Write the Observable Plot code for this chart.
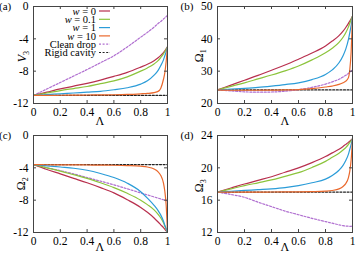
<!DOCTYPE html>
<html><head><meta charset="utf-8">
<script src="https://cdn.jsdelivr.net/npm/d3@7"></script>
<script src="https://cdn.jsdelivr.net/npm/@observablehq/plot@0.6"></script>
<style>
body{margin:0;background:#fff;}
#wrap{position:relative;width:356px;height:254px;font-family:"Liberation Serif","DejaVu Serif",serif;color:#000;}
.p{position:absolute;}
.lab{position:absolute;font-size:12px;white-space:nowrap;line-height:1;}
</style></head><body>
<div id="wrap"></div>
<script>
// Λ grid shared by all series
const lam = [0, 0.1, 0.2, 0.3, 0.4, 0.5, 0.6, 0.7, 0.8, 0.85, 0.9, 0.93, 0.95, 0.97, 0.98, 0.99, 1];
const seriesNames = ["w = 0", "w = 0.1", "w = 1", "w = 10", "Clean drop", "Rigid cavity"];
const xTicks = [0, 0.2, 0.4, 0.6, 0.8, 1];

// (a) V3
const a_w0   = [-11, -10.6, -10.2, -9.85, -9.5, -9.1, -8.65, -8.15, -7.5, -7.15, -6.7, -6.35, -6.05, -5.7, -5.5, -5.25, -5.0];
const a_w01  = [-11, -10.7, -10.4, -10.15, -9.9, -9.55, -9.2, -8.7, -8.0, -7.6, -7.1, -6.7, -6.3, -5.85, -5.6, -5.3, -5.0];
const a_w1   = [-11, -10.9, -10.8, -10.7, -10.6, -10.5, -10.3, -10.05, -9.6, -9.2, -8.5, -7.9, -7.3, -6.6, -6.1, -5.6, -5.0];
const a_w10  = [-11, -11, -10.98, -10.97, -10.95, -10.94, -10.92, -10.88, -10.8, -10.75, -10.65, -10.5, -10.1, -9.0, -8.2, -6.8, -5.0];
const a_clean= [-11, -10.2, -9.4, -8.6, -7.8, -6.95, -6.1, -5.0, -3.8, -3.2, -2.55, -2.1, -1.85, -1.55, -1.4, -1.25, -1.1];
const a_rigid= [-11, -11, -11, -11, -11, -11, -11, -11, -11, -11, -11, -11, -11, -11, -11, -11, -11];
const a_yTicks = [0, -4, -8, -12];

// (b) Ω1
const b_w0   = [24.2, 25.7, 27.2, 28.7, 30.3, 31.9, 33.7, 35.6, 37.8, 39.3, 41.0, 42.4, 43.5, 44.8, 45.5, 46.2, 47.0];
const b_w01  = [24.2, 25.3, 26.4, 27.6, 28.8, 30.1, 31.6, 33.5, 35.7, 37.1, 38.9, 40.5, 41.9, 43.7, 44.8, 45.9, 47.0];
const b_w1   = [24.2, 24.45, 24.7, 25.0, 25.4, 25.85, 26.4, 27.4, 29.0, 30.4, 32.6, 34.8, 36.8, 39.8, 41.9, 44.2, 47.0];
const b_w10  = [24.2, 24.1, 24.1, 24.1, 24.15, 24.2, 24.3, 24.6, 25.1, 25.4, 25.9, 26.4, 26.9, 28.0, 30.5, 36.0, 47.0];
const b_clean= [24.2, 23.9, 23.6, 23.5, 23.55, 23.8, 24.3, 25.0, 26.0, 26.7, 27.5, 28.2, 28.7, 29.3, 29.7, 30.0, 30.4];
const b_rigid= [24.2, 24.2, 24.2, 24.2, 24.2, 24.2, 24.2, 24.2, 24.2, 24.2, 24.2, 24.2, 24.2, 24.2, 24.2, 24.2, 24.2];
const b_yTicks = [20, 30, 40, 50];

// (c) Ω2
const c_w0   = [-3.6, -4.2, -4.75, -5.3, -5.85, -6.45, -7.1, -7.95, -8.9, -9.5, -10.2, -10.7, -11.05, -11.4, -11.6, -11.8, -12];
const c_w01  = [-3.6, -4.0, -4.4, -4.85, -5.3, -5.85, -6.45, -7.15, -8.0, -8.55, -9.2, -9.75, -10.2, -10.8, -11.2, -11.6, -12];
const c_w1   = [-3.6, -3.75, -3.9, -4.05, -4.3, -4.7, -5.2, -5.9, -6.95, -7.75, -8.65, -9.3, -9.85, -10.6, -11.1, -11.5, -12];
const c_w10  = [-3.6, -3.62, -3.63, -3.64, -3.65, -3.66, -3.68, -3.72, -3.8, -3.9, -4.15, -4.5, -4.95, -5.9, -6.9, -8.6, -12];
const c_clean= [-3.6, -3.98, -4.35, -4.75, -5.2, -5.65, -6.1, -6.6, -7.1, -7.35, -7.6, -7.75, -7.85, -7.95, -8.0, -8.05, -8.1];
const c_rigid= [-3.6, -3.6, -3.6, -3.6, -3.6, -3.6, -3.6, -3.6, -3.6, -3.6, -3.6, -3.6, -3.6, -3.6, -3.6, -3.6, -3.6];
const c_yTicks = [0, -4, -8, -12];

// (d) Ω3
const d_w0   = [17.0, 17.5, 18.0, 18.45, 18.9, 19.45, 20.0, 20.65, 21.4, 21.85, 22.3, 22.65, 22.9, 23.15, 23.3, 23.45, 23.6];
const d_w01  = [17.0, 17.4, 17.8, 18.15, 18.5, 18.95, 19.4, 20.05, 20.8, 21.3, 21.8, 22.2, 22.5, 22.9, 23.15, 23.35, 23.6];
const d_w1   = [17.0, 17.1, 17.2, 17.3, 17.4, 17.55, 17.8, 18.15, 18.6, 19.05, 19.7, 20.3, 20.9, 21.7, 22.3, 22.9, 23.6];
const d_w10  = [17.0, 17.0, 17.0, 17.0, 17.01, 17.02, 17.03, 17.06, 17.12, 17.2, 17.4, 17.7, 18.05, 18.8, 19.6, 21.0, 23.6];
const d_clean= [17.0, 16.7, 16.35, 15.75, 15.2, 14.65, 14.2, 13.75, 13.35, 13.15, 12.95, 12.85, 12.8, 12.78, 12.77, 12.77, 12.8];
const d_rigid= [17, 17, 17, 17, 17, 17, 17, 17, 17, 17, 17, 17, 17, 17, 17, 17, 17];
const d_yTicks = [12, 16, 20, 24];

const colors = ["#b8304e", "#8cc43c", "#2b9cd8", "#ea682c", "#b06fd0", "#222222"];
const dashes = [null, null, null, null, "2,1.6", "2,1.6"];

function table(arrs) {
  const rows = [];
  arrs.forEach((arr, si) => arr.forEach((v, i) => rows.push({s: si, x: lam[i], y: v})));
  return rows;
}

const wrap = document.getElementById("wrap");
const W = 178, H = 127;

function panel(arrs, yTicks, left, top, m) {
  const fw = W - m.l - m.r, fh = H - m.t - m.b;
  const data = table(arrs);
  const marks = [];
  [5, 4, 0, 1, 2, 3].forEach(si => {
    marks.push(Plot.line(data.filter(d => d.s === si), {
      x: "x", y: "y", stroke: colors[si], strokeWidth: 1.2,
      strokeDasharray: dashes[si], curve: "monotone-x", clip: true
    }));
  });
  marks.push(Plot.frame({stroke: "#444", strokeWidth: 1}));
  marks.push(Plot.tickY(yTicks, {y: d => d, insetRight: fw - 3, stroke: "#444"}));
  marks.push(Plot.tickY(yTicks, {y: d => d, insetLeft: fw - 3, stroke: "#444"}));
  marks.push(Plot.tickX(xTicks, {x: d => d, insetTop: fh - 3, stroke: "#444"}));
  marks.push(Plot.tickX(xTicks, {x: d => d, insetBottom: fh - 3, stroke: "#444"}));
  marks.push(Plot.axisX({ticks: xTicks, tickSize: 0, tickPadding: 4, tickFormat: d => String(d), label: null}));
  marks.push(Plot.axisY({ticks: yTicks, tickSize: 0, tickPadding: 5, tickFormat: d => String(d), label: null}));
  const yd = d3.extent(yTicks);
  const svg = Plot.plot({
    width: W, height: H,
    marginLeft: m.l, marginRight: m.r, marginTop: m.t, marginBottom: m.b,
    x: {domain: [0, 1]},
    y: {domain: yd},
    style: {fontFamily: "'Liberation Serif', 'DejaVu Serif', serif", fontSize: "11.5px", background: "transparent", overflow: "visible"},
    marks
  });
  svg.classList.add("p");
  svg.style.left = left + "px";
  svg.style.top = top + "px";
  wrap.appendChild(svg);
}

panel([a_w0, a_w01, a_w1, a_w10, a_clean, a_rigid], a_yTicks, 0, 0, {l: 33, r: 11, t: 6, b: 24});
panel([b_w0, b_w01, b_w1, b_w10, b_clean, b_rigid], b_yTicks, 178, 0, {l: 39, r: 4, t: 6, b: 24});
panel([c_w0, c_w01, c_w1, c_w10, c_clean, c_rigid], c_yTicks, 0, 127, {l: 33, r: 11, t: 8, b: 22});
panel([d_w0, d_w01, d_w1, d_w10, d_clean, d_rigid], d_yTicks, 178, 127, {l: 39, r: 4, t: 8, b: 22});

function lab(html, x, y, rot, size) {
  const el = document.createElement("div");
  el.className = "lab";
  el.innerHTML = html;
  if (size) el.style.fontSize = size + "px";
  wrap.appendChild(el);
  const w = el.offsetWidth, h = el.offsetHeight;
  el.style.left = (x - w / 2) + "px";
  el.style.top = (y - h / 2) + "px";
  if (rot) el.style.transform = "rotate(-90deg)";
}
lab("(a)", 5, 6, false, 11);
lab("(b)", 187, 6, false, 11);
lab("(c)", 5, 135, false, 11);
lab("(d)", 187, 135, false, 11);
lab("Λ", 100, 121, false, 12);
lab("Λ", 285, 121, false, 12);
lab("Λ", 100, 246.5, false, 12);
lab("Λ", 285, 246.5, false, 12);
lab("<i>V</i><sub style='font-size:8px'>3</sub>", 23, 56, true, 12);
lab("Ω<sub style='font-size:8px'>1</sub>", 200, 55, true, 12);
lab("Ω<sub style='font-size:8px'>2</sub>", 22, 183, true, 12);
lab("Ω<sub style='font-size:8px'>3</sub>", 200, 185, true, 12);

// legend inside panel (a)
const leg = d3.select(wrap).append("svg").attr("width", 356).attr("height", 254)
  .style("position", "absolute").style("left", 0).style("top", 0)
  .style("font-family", "'Liberation Serif', 'DejaVu Serif', serif").style("font-size", "10.5px");
const rowsY = [11, 19.3, 27.6, 35.9, 44.2, 52.5];
seriesNames.forEach((name, i) => {
  const t = leg.append("text").attr("x", 96).attr("y", rowsY[i]).attr("dy", "0.35em").attr("text-anchor", "end");
  if (name.startsWith("w")) {
    t.append("tspan").attr("font-style", "italic").text("w");
    t.append("tspan").text(name.slice(1));
  } else t.text(name);
  leg.append("line").attr("x1", 99).attr("x2", 110).attr("y1", rowsY[i]).attr("y2", rowsY[i])
    .attr("stroke", colors[i]).attr("stroke-width", 1.2).attr("stroke-dasharray", dashes[i]);
});
</script>
</body></html>
